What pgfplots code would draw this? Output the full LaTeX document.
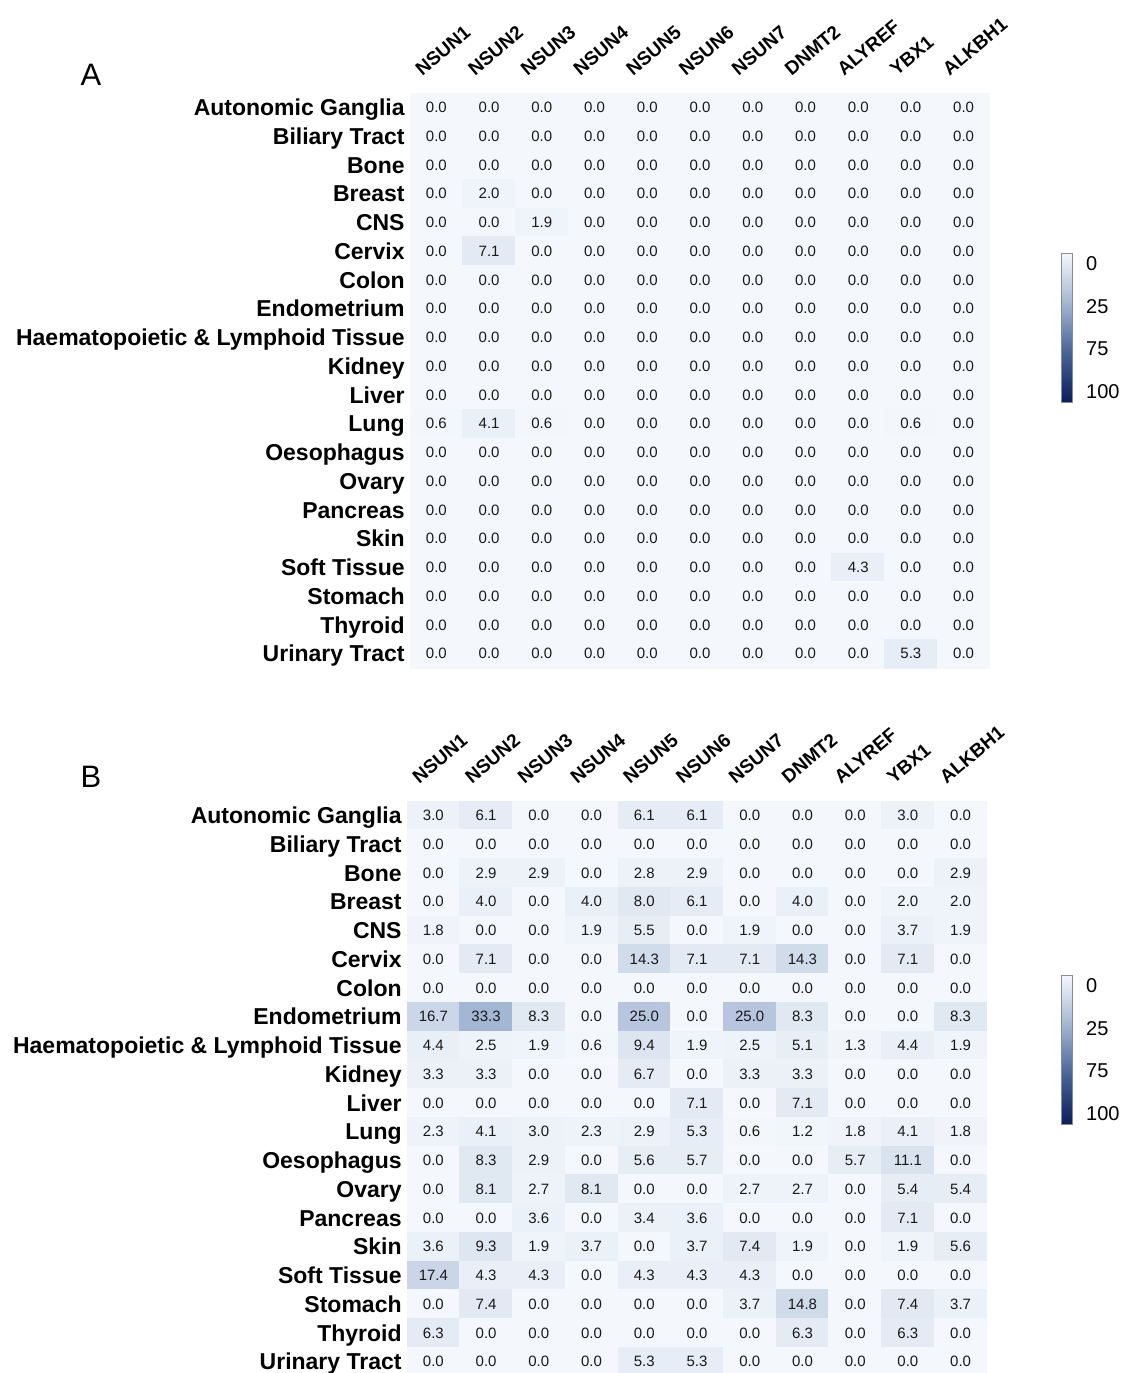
\documentclass[border=0pt]{standalone}
\usepackage{pgfplots}
\usepackage{pgfplotstable}
\pgfplotsset{compat=1.18}
\usepackage{fontspec}
\setmainfont{Liberation Sans}

% Frequency (%) per tissue (rows) and regulator (columns)
\pgfplotstableread[row sep=\\]{
x y v\\
0 0 0.0\\ 1 0 0.0\\ 2 0 0.0\\ 3 0 0.0\\ 4 0 0.0\\ 5 0 0.0\\ 6 0 0.0\\ 7 0 0.0\\ 8 0 0.0\\ 9 0 0.0\\ 10 0 0.0\\
0 1 0.0\\ 1 1 0.0\\ 2 1 0.0\\ 3 1 0.0\\ 4 1 0.0\\ 5 1 0.0\\ 6 1 0.0\\ 7 1 0.0\\ 8 1 0.0\\ 9 1 0.0\\ 10 1 0.0\\
0 2 0.0\\ 1 2 0.0\\ 2 2 0.0\\ 3 2 0.0\\ 4 2 0.0\\ 5 2 0.0\\ 6 2 0.0\\ 7 2 0.0\\ 8 2 0.0\\ 9 2 0.0\\ 10 2 0.0\\
0 3 0.0\\ 1 3 2.0\\ 2 3 0.0\\ 3 3 0.0\\ 4 3 0.0\\ 5 3 0.0\\ 6 3 0.0\\ 7 3 0.0\\ 8 3 0.0\\ 9 3 0.0\\ 10 3 0.0\\
0 4 0.0\\ 1 4 0.0\\ 2 4 1.9\\ 3 4 0.0\\ 4 4 0.0\\ 5 4 0.0\\ 6 4 0.0\\ 7 4 0.0\\ 8 4 0.0\\ 9 4 0.0\\ 10 4 0.0\\
0 5 0.0\\ 1 5 7.1\\ 2 5 0.0\\ 3 5 0.0\\ 4 5 0.0\\ 5 5 0.0\\ 6 5 0.0\\ 7 5 0.0\\ 8 5 0.0\\ 9 5 0.0\\ 10 5 0.0\\
0 6 0.0\\ 1 6 0.0\\ 2 6 0.0\\ 3 6 0.0\\ 4 6 0.0\\ 5 6 0.0\\ 6 6 0.0\\ 7 6 0.0\\ 8 6 0.0\\ 9 6 0.0\\ 10 6 0.0\\
0 7 0.0\\ 1 7 0.0\\ 2 7 0.0\\ 3 7 0.0\\ 4 7 0.0\\ 5 7 0.0\\ 6 7 0.0\\ 7 7 0.0\\ 8 7 0.0\\ 9 7 0.0\\ 10 7 0.0\\
0 8 0.0\\ 1 8 0.0\\ 2 8 0.0\\ 3 8 0.0\\ 4 8 0.0\\ 5 8 0.0\\ 6 8 0.0\\ 7 8 0.0\\ 8 8 0.0\\ 9 8 0.0\\ 10 8 0.0\\
0 9 0.0\\ 1 9 0.0\\ 2 9 0.0\\ 3 9 0.0\\ 4 9 0.0\\ 5 9 0.0\\ 6 9 0.0\\ 7 9 0.0\\ 8 9 0.0\\ 9 9 0.0\\ 10 9 0.0\\
0 10 0.0\\ 1 10 0.0\\ 2 10 0.0\\ 3 10 0.0\\ 4 10 0.0\\ 5 10 0.0\\ 6 10 0.0\\ 7 10 0.0\\ 8 10 0.0\\ 9 10 0.0\\ 10 10 0.0\\
0 11 0.6\\ 1 11 4.1\\ 2 11 0.6\\ 3 11 0.0\\ 4 11 0.0\\ 5 11 0.0\\ 6 11 0.0\\ 7 11 0.0\\ 8 11 0.0\\ 9 11 0.6\\ 10 11 0.0\\
0 12 0.0\\ 1 12 0.0\\ 2 12 0.0\\ 3 12 0.0\\ 4 12 0.0\\ 5 12 0.0\\ 6 12 0.0\\ 7 12 0.0\\ 8 12 0.0\\ 9 12 0.0\\ 10 12 0.0\\
0 13 0.0\\ 1 13 0.0\\ 2 13 0.0\\ 3 13 0.0\\ 4 13 0.0\\ 5 13 0.0\\ 6 13 0.0\\ 7 13 0.0\\ 8 13 0.0\\ 9 13 0.0\\ 10 13 0.0\\
0 14 0.0\\ 1 14 0.0\\ 2 14 0.0\\ 3 14 0.0\\ 4 14 0.0\\ 5 14 0.0\\ 6 14 0.0\\ 7 14 0.0\\ 8 14 0.0\\ 9 14 0.0\\ 10 14 0.0\\
0 15 0.0\\ 1 15 0.0\\ 2 15 0.0\\ 3 15 0.0\\ 4 15 0.0\\ 5 15 0.0\\ 6 15 0.0\\ 7 15 0.0\\ 8 15 0.0\\ 9 15 0.0\\ 10 15 0.0\\
0 16 0.0\\ 1 16 0.0\\ 2 16 0.0\\ 3 16 0.0\\ 4 16 0.0\\ 5 16 0.0\\ 6 16 0.0\\ 7 16 0.0\\ 8 16 4.3\\ 9 16 0.0\\ 10 16 0.0\\
0 17 0.0\\ 1 17 0.0\\ 2 17 0.0\\ 3 17 0.0\\ 4 17 0.0\\ 5 17 0.0\\ 6 17 0.0\\ 7 17 0.0\\ 8 17 0.0\\ 9 17 0.0\\ 10 17 0.0\\
0 18 0.0\\ 1 18 0.0\\ 2 18 0.0\\ 3 18 0.0\\ 4 18 0.0\\ 5 18 0.0\\ 6 18 0.0\\ 7 18 0.0\\ 8 18 0.0\\ 9 18 0.0\\ 10 18 0.0\\
0 19 0.0\\ 1 19 0.0\\ 2 19 0.0\\ 3 19 0.0\\ 4 19 0.0\\ 5 19 0.0\\ 6 19 0.0\\ 7 19 0.0\\ 8 19 0.0\\ 9 19 5.3\\ 10 19 0.0\\
}\dataA

\pgfplotstableread[row sep=\\]{
x y v\\
0 0 3.0\\ 1 0 6.1\\ 2 0 0.0\\ 3 0 0.0\\ 4 0 6.1\\ 5 0 6.1\\ 6 0 0.0\\ 7 0 0.0\\ 8 0 0.0\\ 9 0 3.0\\ 10 0 0.0\\
0 1 0.0\\ 1 1 0.0\\ 2 1 0.0\\ 3 1 0.0\\ 4 1 0.0\\ 5 1 0.0\\ 6 1 0.0\\ 7 1 0.0\\ 8 1 0.0\\ 9 1 0.0\\ 10 1 0.0\\
0 2 0.0\\ 1 2 2.9\\ 2 2 2.9\\ 3 2 0.0\\ 4 2 2.8\\ 5 2 2.9\\ 6 2 0.0\\ 7 2 0.0\\ 8 2 0.0\\ 9 2 0.0\\ 10 2 2.9\\
0 3 0.0\\ 1 3 4.0\\ 2 3 0.0\\ 3 3 4.0\\ 4 3 8.0\\ 5 3 6.1\\ 6 3 0.0\\ 7 3 4.0\\ 8 3 0.0\\ 9 3 2.0\\ 10 3 2.0\\
0 4 1.8\\ 1 4 0.0\\ 2 4 0.0\\ 3 4 1.9\\ 4 4 5.5\\ 5 4 0.0\\ 6 4 1.9\\ 7 4 0.0\\ 8 4 0.0\\ 9 4 3.7\\ 10 4 1.9\\
0 5 0.0\\ 1 5 7.1\\ 2 5 0.0\\ 3 5 0.0\\ 4 5 14.3\\ 5 5 7.1\\ 6 5 7.1\\ 7 5 14.3\\ 8 5 0.0\\ 9 5 7.1\\ 10 5 0.0\\
0 6 0.0\\ 1 6 0.0\\ 2 6 0.0\\ 3 6 0.0\\ 4 6 0.0\\ 5 6 0.0\\ 6 6 0.0\\ 7 6 0.0\\ 8 6 0.0\\ 9 6 0.0\\ 10 6 0.0\\
0 7 16.7\\ 1 7 33.3\\ 2 7 8.3\\ 3 7 0.0\\ 4 7 25.0\\ 5 7 0.0\\ 6 7 25.0\\ 7 7 8.3\\ 8 7 0.0\\ 9 7 0.0\\ 10 7 8.3\\
0 8 4.4\\ 1 8 2.5\\ 2 8 1.9\\ 3 8 0.6\\ 4 8 9.4\\ 5 8 1.9\\ 6 8 2.5\\ 7 8 5.1\\ 8 8 1.3\\ 9 8 4.4\\ 10 8 1.9\\
0 9 3.3\\ 1 9 3.3\\ 2 9 0.0\\ 3 9 0.0\\ 4 9 6.7\\ 5 9 0.0\\ 6 9 3.3\\ 7 9 3.3\\ 8 9 0.0\\ 9 9 0.0\\ 10 9 0.0\\
0 10 0.0\\ 1 10 0.0\\ 2 10 0.0\\ 3 10 0.0\\ 4 10 0.0\\ 5 10 7.1\\ 6 10 0.0\\ 7 10 7.1\\ 8 10 0.0\\ 9 10 0.0\\ 10 10 0.0\\
0 11 2.3\\ 1 11 4.1\\ 2 11 3.0\\ 3 11 2.3\\ 4 11 2.9\\ 5 11 5.3\\ 6 11 0.6\\ 7 11 1.2\\ 8 11 1.8\\ 9 11 4.1\\ 10 11 1.8\\
0 12 0.0\\ 1 12 8.3\\ 2 12 2.9\\ 3 12 0.0\\ 4 12 5.6\\ 5 12 5.7\\ 6 12 0.0\\ 7 12 0.0\\ 8 12 5.7\\ 9 12 11.1\\ 10 12 0.0\\
0 13 0.0\\ 1 13 8.1\\ 2 13 2.7\\ 3 13 8.1\\ 4 13 0.0\\ 5 13 0.0\\ 6 13 2.7\\ 7 13 2.7\\ 8 13 0.0\\ 9 13 5.4\\ 10 13 5.4\\
0 14 0.0\\ 1 14 0.0\\ 2 14 3.6\\ 3 14 0.0\\ 4 14 3.4\\ 5 14 3.6\\ 6 14 0.0\\ 7 14 0.0\\ 8 14 0.0\\ 9 14 7.1\\ 10 14 0.0\\
0 15 3.6\\ 1 15 9.3\\ 2 15 1.9\\ 3 15 3.7\\ 4 15 0.0\\ 5 15 3.7\\ 6 15 7.4\\ 7 15 1.9\\ 8 15 0.0\\ 9 15 1.9\\ 10 15 5.6\\
0 16 17.4\\ 1 16 4.3\\ 2 16 4.3\\ 3 16 0.0\\ 4 16 4.3\\ 5 16 4.3\\ 6 16 4.3\\ 7 16 0.0\\ 8 16 0.0\\ 9 16 0.0\\ 10 16 0.0\\
0 17 0.0\\ 1 17 7.4\\ 2 17 0.0\\ 3 17 0.0\\ 4 17 0.0\\ 5 17 0.0\\ 6 17 3.7\\ 7 17 14.8\\ 8 17 0.0\\ 9 17 7.4\\ 10 17 3.7\\
0 18 6.3\\ 1 18 0.0\\ 2 18 0.0\\ 3 18 0.0\\ 4 18 0.0\\ 5 18 0.0\\ 6 18 0.0\\ 7 18 6.3\\ 8 18 0.0\\ 9 18 6.3\\ 10 18 0.0\\
0 19 0.0\\ 1 19 0.0\\ 2 19 0.0\\ 3 19 0.0\\ 4 19 5.3\\ 5 19 5.3\\ 6 19 0.0\\ 7 19 0.0\\ 8 19 0.0\\ 9 19 0.0\\ 10 19 0.0\\
}\dataB

\pgfplotsset{
  colormap={tissue}{rgb255=(244,248,252) rgb255=(163,182,212) rgb255=(70,100,155) rgb255=(8,30,95)},
  heatmap/.style={
    scale only axis, width=290pt,
    xmin=-0.5, xmax=10.5, ymin=-0.5, ymax=19.5, y dir=reverse,
    xtick={0,...,10}, ytick={0,...,19},
    xticklabels={NSUN1,NSUN2,NSUN3,NSUN4,NSUN5,NSUN6,NSUN7,DNMT2,ALYREF,YBX1,ALKBH1},
    yticklabels={Autonomic Ganglia,Biliary Tract,Bone,Breast,CNS,Cervix,Colon,Endometrium,
      Haematopoietic \& Lymphoid Tissue,Kidney,Liver,Lung,Oesophagus,Ovary,Pancreas,Skin,
      Soft Tissue,Stomach,Thyroid,Urinary Tract},
    xticklabel pos=right,
    axis line style={draw=none}, major tick length=0pt,
    xticklabel style={xshift=-7pt, yshift=8pt, rotate=40, anchor=south west, inner sep=0pt,
      font=\bfseries\fontsize{9.5}{11}\selectfont},
    yticklabel style={anchor=base east, inner sep=0pt, xshift=-2.5pt, yshift=-4.1pt,
      font=\bfseries\fontsize{11.5}{13}\selectfont},
    point meta min=0, point meta max=100, colormap name=tissue,
    /pgf/number format/assume math mode=true,
    nodes near coords={\pgfmathprintnumber[fixed,fixed zerofill,precision=1]{\pgfplotspointmeta}},
    nodes near coords align=center,
    every node near coord/.append style={anchor=center, text=black!90,
      font=\fontsize{7.5}{9}\selectfont},
    colorbar,
    colorbar style={
      at={(parent axis.north east)}, anchor=north west,
      width=5.5pt, height=74.5pt, y dir=reverse,
      ytick={7,36,64,93}, yticklabels={0,25,75,100},
      major tick length=0pt,
      axis line style={draw=black!45, line width=0.4pt},
      yticklabel style={font=\fontsize{10}{12}\selectfont, xshift=3.5pt},
    },
  },
}

\begin{document}
\begin{tikzpicture}
\useasboundingbox (0,0) rectangle (563.5pt,-686.5pt);

\node[font=\fontsize{15.5}{18}\selectfont] at (45.5pt,-37.5pt) {A};
\begin{axis}[heatmap, at={(205pt,-46.5pt)}, anchor=north west, height=287.5pt,
  colorbar style={xshift=27pt, yshift=-80pt}]
  \addplot[matrix plot*, mesh/cols=11, point meta=explicit] table[meta=v] {\dataA};
\end{axis}

\node[font=\fontsize{15.5}{18}\selectfont] at (45.5pt,-388.5pt) {B};
\begin{axis}[heatmap, at={(203.5pt,-400.5pt)}, anchor=north west, height=287.5pt,
  colorbar style={xshift=28.5pt, yshift=-87pt}]
  \addplot[matrix plot*, mesh/cols=11, point meta=explicit] table[meta=v] {\dataB};
\end{axis}
\end{tikzpicture}
\end{document}
